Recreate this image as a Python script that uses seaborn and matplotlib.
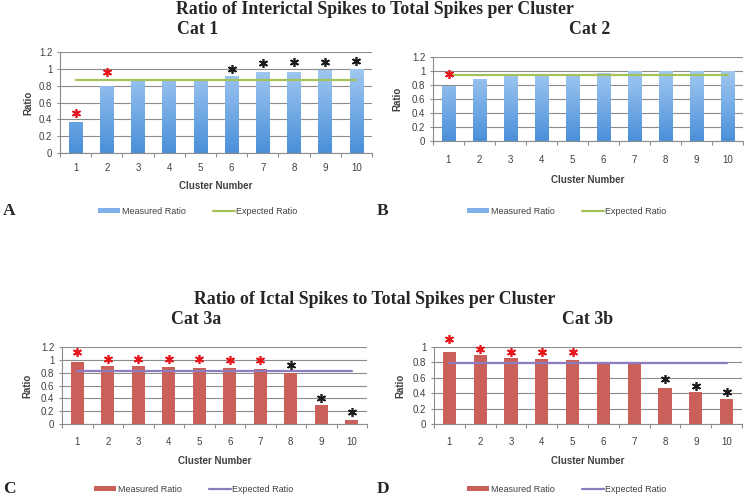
import numpy as np
import pandas as pd
import matplotlib as mpl
mpl.use('Agg')
import matplotlib.pyplot as plt
from matplotlib.colors import LinearSegmentedColormap
from matplotlib.patches import Patch
from matplotlib.lines import Line2D
import seaborn as sns

clusters = [str(i) for i in range(1, 11)]

cat1_ratio = [0.37, 0.80, 0.86, 0.87, 0.88, 0.91, 0.96, 0.96, 0.99, 1.00]
cat1_expected = [0.87] * 10
cat1_star_y = [0.47, 0.96, None, None, None, 1.00, 1.07, 1.08, 1.08, 1.09]
cat1_star_c = ['r', 'r', None, None, None, 'k', 'k', 'k', 'k', 'k']

cat2_ratio = [0.78, 0.89, 0.93, 0.93, 0.96, 0.97, 1.00, 1.00, 1.00, 1.00]
cat2_expected = [0.94] * 10
cat2_star_y = [0.96, None, None, None, None, None, None, None, None, None]
cat2_star_c = ['r', None, None, None, None, None, None, None, None, None]

cat3a_ratio = [0.96, 0.91, 0.90, 0.89, 0.88, 0.87, 0.86, 0.79, 0.29, 0.07]
cat3a_expected = [0.82] * 10
cat3a_star_y = [1.12, 1.01, 1.01, 1.01, 1.01, 1.00, 1.00, 0.92, 0.41, 0.18]
cat3a_star_c = ['r', 'r', 'r', 'r', 'r', 'r', 'r', 'k', 'k', 'k']

cat3b_ratio = [0.94, 0.90, 0.86, 0.84, 0.83, 0.80, 0.78, 0.47, 0.41, 0.32]
cat3b_expected = [0.79] * 10
cat3b_star_y = [1.10, 0.98, 0.94, 0.93, 0.93, None, None, 0.59, 0.50, 0.42]
cat3b_star_c = ['r', 'r', 'r', 'r', 'r', None, None, 'k', 'k', 'k']

title_top = "Ratio of Interictal Spikes to Total Spikes per Cluster"
title_bottom = "Ratio of Ictal Spikes to Total Spikes per Cluster"

sns.set_theme(style='white')
plt.rcParams['font.family'] = ['Liberation Sans', 'DejaVu Sans']

GRID = '#8c8c8c'
TXT = '#404040'
BLUE_TOP = '#b3d4f5'
BLUE_BOT = '#4a8fda'
RED = '#c9605a'
GREEN = '#a3c25c'
PURPLE = '#8e7cc3'
blue_cmap = LinearSegmentedColormap.from_list('bl', [BLUE_BOT, BLUE_TOP])

fig = plt.figure(figsize=(7.5, 4.98), dpi=100)


def panel(rect, ratio, expected, star_y, star_c, ymax, yticks, bar_kind, line_color,
          tick_pad, xlab_y, ylab_x):
    ax = fig.add_axes(rect)
    df = pd.DataFrame({'Cluster': clusters, 'Ratio': ratio, 'Expected': expected})
    sns.barplot(data=df, x='Cluster', y='Ratio', ax=ax, width=0.43,
                color=RED if bar_kind == 'red' else BLUE_BOT, saturation=1,
                edgecolor='none', zorder=2)
    if bar_kind == 'blue':
        grad = np.linspace(0, 1, 256).reshape(-1, 1)
        for p in ax.patches:
            x0 = p.get_x()
            w = p.get_width()
            im = ax.imshow(grad, cmap=blue_cmap, aspect='auto', origin='lower',
                           extent=(x0, x0 + w, 0, ymax), zorder=2.5,
                           interpolation='bilinear')
            im.set_clip_path(p)
    sns.lineplot(x=np.arange(10), y=df['Expected'], ax=ax, color=line_color,
                 lw=1.6, zorder=3)
    # significance asterisks
    for i, (sy, sc) in enumerate(zip(star_y, star_c)):
        if sy is None:
            continue
        ax.plot([i], [sy], marker=(6, 2, 0), ms=6.5, mew=1.2,
                color='#e8141c' if sc == 'r' else '#1a1a1a',
                clip_on=False, zorder=4)
    ax.set_xlim(-0.5, 9.5)
    ax.set_ylim(0, ymax)
    ax.set_yticks(yticks)
    ax.set_yticklabels([('%g' % t) for t in yticks])
    ax.set_xticks(np.arange(10))
    ax.set_xticks(np.arange(-0.5, 10, 1), minor=True)
    ax.tick_params(axis='x', which='major', length=0, pad=tick_pad,
                   labelsize=7, labelcolor=TXT)
    ax.tick_params(axis='x', which='minor', length=3, color=GRID, width=0.8,
                   direction='out', bottom=True)
    ax.tick_params(axis='y', length=2.5, color=GRID, width=0.8, left=True,
                   direction='out', labelsize=7, labelcolor=TXT, pad=3)
    ax.yaxis.grid(True, color=GRID, lw=0.8, zorder=0)
    ax.set_axisbelow(True)
    for s in ['top', 'right']:
        ax.spines[s].set_visible(False)
    for s in ['left', 'bottom']:
        ax.spines[s].set_color(GRID)
        ax.spines[s].set_linewidth(0.8)
    ax.set_xlabel('Cluster Number', fontsize=7, fontweight='bold', color=TXT)
    ax.xaxis.set_label_coords(0.5, xlab_y)
    ax.xaxis.label.set_va('center')
    ax.set_ylabel('Ratio', fontsize=7, fontweight='bold', color=TXT)
    ax.yaxis.set_label_coords(ylab_x, 0.5)
    ax.yaxis.label.set_va('center')
    return ax


H = 498.0
W = 750.0


def rect(l, r, top, bot):
    return [l / W, 1 - bot / H, (r - l) / W, (bot - top) / H]


panel(rect(60, 372, 52, 153), cat1_ratio, cat1_expected, cat1_star_y, cat1_star_c,
      1.2, [0, 0.2, 0.4, 0.6, 0.8, 1, 1.2], 'blue', GREEN, 7, -0.33, -0.10)
panel(rect(433, 743, 57, 141), cat2_ratio, cat2_expected, cat2_star_y, cat2_star_c,
      1.2, [0, 0.2, 0.4, 0.6, 0.8, 1, 1.2], 'blue', GREEN, 10, -0.46, -0.116)
panel(rect(62, 367, 347, 424), cat3a_ratio, cat3a_expected, cat3a_star_y, cat3a_star_c,
      1.2, [0, 0.2, 0.4, 0.6, 0.8, 1, 1.2], 'red', PURPLE, 9.4, -0.48, -0.115)
panel(rect(434, 742, 347, 424), cat3b_ratio, cat3b_expected, cat3b_star_y, cat3b_star_c,
      1.0, [0, 0.2, 0.4, 0.6, 0.8, 1], 'red', PURPLE, 9.4, -0.48, -0.11)

serif = ['Liberation Serif', 'DejaVu Serif']
fig.text(374.5 / W, 1 - 10 / H, title_top, ha='center', va='center', fontsize=12.8,
         fontweight='bold', family=serif)
fig.text(374.5 / W, 1 - 299 / H, title_bottom, ha='center', va='center', fontsize=12.8,
         fontweight='bold', family=serif)
for txt, x, y in [('Cat 1', 198, 30), ('Cat 2', 590, 30), ('Cat 3a', 196, 320), ('Cat 3b', 588, 320)]:
    fig.text(x / W, 1 - y / H, txt, ha='center', va='center', fontsize=12.8,
             fontweight='bold', family=serif)
for txt, x, y in [('A', 3, 211), ('B', 377, 211), ('C', 3, 489), ('D', 377, 489)]:
    fig.text(x / W, 1 - y / H, txt, ha='left', va='center', fontsize=12.5,
             fontweight='bold', family=serif)

for (x, y), bar_c, line_c in [((198, 211), '#7fb2ea', GREEN), ((567, 211), '#7fb2ea', GREEN),
                              ((194, 489), RED, PURPLE), ((567, 489), RED, PURPLE)]:
    handles = [Patch(facecolor=bar_c, edgecolor='none', label='Measured Ratio'),
               Line2D([], [], color=line_c, lw=1.6, label='Expected Ratio')]
    fig.legend(handles=handles, loc='center', bbox_to_anchor=(x / W, 1 - y / H),
               ncol=2, frameon=False, fontsize=6.5, labelcolor=TXT,
               handlelength=2.4, handleheight=0.5, handletextpad=0.2,
               columnspacing=3.0)

fig.savefig('out.png', dpi=100)
